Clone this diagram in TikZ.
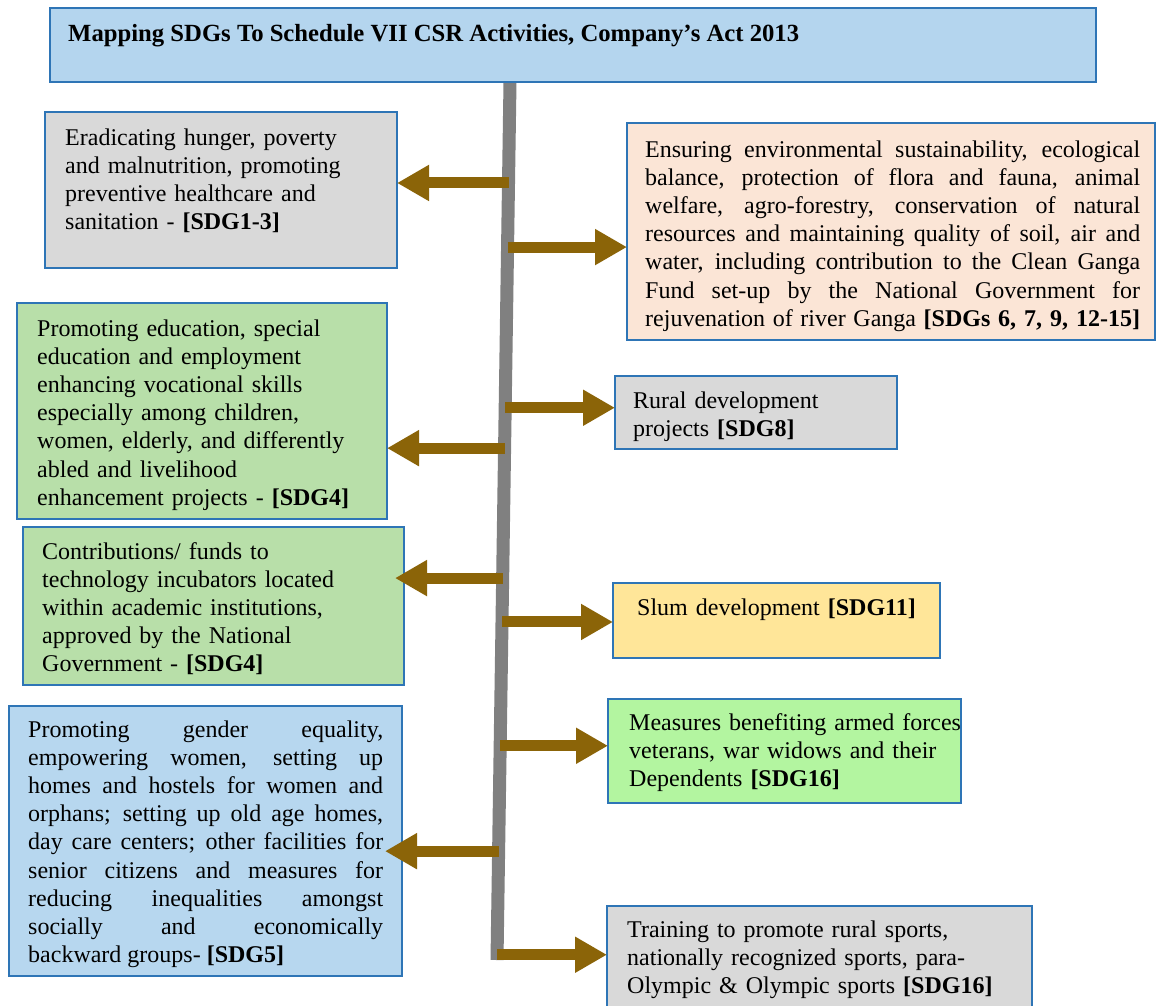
\documentclass[tikz,border=0pt]{standalone}
\usepackage{fontspec}
\setmainfont{Liberation Serif}
\usetikzlibrary{arrows.meta,calc}
\definecolor{bordc}{HTML}{2E75B6}
\definecolor{titlec}{HTML}{B4D5EE}
\definecolor{grayc}{HTML}{D9D9D9}
\definecolor{peachc}{HTML}{FBE5D6}
\definecolor{greenc}{HTML}{B8DFA9}
\definecolor{yellowc}{HTML}{FFE699}
\definecolor{limec}{HTML}{B3F5A0}
\definecolor{bluec}{HTML}{B7D7EF}
\definecolor{arrowc}{HTML}{8B6408}
\definecolor{barc}{HTML}{808080}
\begin{document}
\begin{tikzpicture}[x=1pt,y=-1pt,
  box/.style={draw=bordc,line width=2.2pt,anchor=north west,inner sep=0pt,outer sep=0pt},
  txt/.style={anchor=base west,inner sep=0pt,align=left,text width=#1,
     font=\fontsize{24}{28.2}\selectfont},
  txtj/.style={anchor=base west,inner sep=0pt,align=justify,text width=#1,
     font=\fontsize{24}{28.2}\selectfont},
  arr/.style={draw=arrowc,line width=11pt,-{Triangle[length=32pt,width=34pt]}},
  bar/.style={draw=barc,line width=13pt}]
\clip (0,0) rectangle (1156,1005);
\fill[white] (0,0) rectangle (1156,1005);
% central bar
\coordinate (bartop) at (510,82);
\coordinate (barbot) at (497,960);
\draw[bar] (bartop) -- (barbot);
\path (bartop) -- (barbot)
  coordinate[pos=0.115] (s1)
  coordinate[pos=0.188] (s2)
  coordinate[pos=0.417] (s3)
  coordinate[pos=0.371] (s4)
  coordinate[pos=0.565] (s5)
  coordinate[pos=0.615] (s6)
  coordinate[pos=0.756] (s7)
  coordinate[pos=0.876] (s8)
  coordinate[pos=0.994] (s9);
% title
\node[box,fill=titlec,minimum width=1046pt,minimum height=74pt] (t) at (50,8) {};
\node[anchor=base west,inner sep=0pt,font=\fontsize{24.7}{28}\selectfont\bfseries] (tt) at (68,41)
  {Mapping SDGs To Schedule VII CSR Activities, Company’s Act 2013};
% boxes
\node[box,fill=grayc,minimum width=352pt,minimum height=156pt] (b1) at (45,112) {};
\node[box,fill=peachc,minimum width=528pt,minimum height=217pt] (b2) at (627,123) {};
\node[box,fill=greenc,minimum width=370pt,minimum height=216pt] (b3) at (17,303) {};
\node[box,fill=grayc,minimum width=282pt,minimum height=73pt] (b4) at (615,376) {};
\node[box,fill=greenc,minimum width=381pt,minimum height=158pt] (b5) at (23,527) {};
\node[box,fill=yellowc,minimum width=327pt,minimum height=75pt] (b6) at (613,583) {};
\node[box,fill=limec,minimum width=353pt,minimum height=104pt] (b7) at (608,699) {};
\node[box,fill=bluec,minimum width=393pt,minimum height=270pt] (b8) at (9,706) {};
\node[box,fill=grayc,minimum width=425pt,minimum height=110pt] (b9) at (607,906) {};
% texts
\node[txt=330pt] (x1) at (65,145) {Eradicating hunger, poverty\\
and malnutrition, promoting\\
preventive healthcare and\\
sanitation - \textbf{[SDG1-3]}};
\node[txtj=500pt] (x2) at (645,157) {%
\makebox[495pt][s]{Ensuring environmental sustainability, ecological}\\
\makebox[495pt][s]{balance, protection of flora and fauna, animal}\\
\makebox[495pt][s]{welfare, agro-forestry, conservation of natural}\\
\makebox[495pt][s]{resources and maintaining quality of soil, air and}\\
\makebox[495pt][s]{water, including contribution to the Clean Ganga}\\
\makebox[495pt][s]{Fund set-up by the National Government for}\\
\makebox[495pt][s]{rejuvenation of river Ganga \textbf{[SDGs 6, 7, 9, 12-15]}}};
\node[txt=345pt] (x3) at (37,336) {Promoting education, special\\
education and employment\\
enhancing vocational skills\\
especially among children,\\
women, elderly, and differently\\
abled and livelihood\\
enhancement projects - \textbf{[SDG4]}};
\node[txt=260pt] (x4) at (633,408) {Rural development\\
projects \textbf{[SDG8]}};
\node[txt=355pt] (x5) at (42,559) {Contributions/ funds to\\
technology incubators located\\
within academic institutions,\\
approved by the National\\
Government - \textbf{[SDG4]}};
\node[txt=300pt] (x6) at (637,615) {Slum development \textbf{[SDG11]}};
\node[txt=350pt] (x7) at (629,730) {Measures benefiting armed forces\\
veterans, war widows and their\\
Dependents \textbf{[SDG16]}};
\node[txtj=360pt] (x8) at (28,737) {%
\makebox[355pt][s]{Promoting gender equality,}\\
\makebox[355pt][s]{empowering women, setting up}\\
\makebox[355pt][s]{homes and hostels for women and}\\
\makebox[355pt][s]{orphans; setting up old age homes,}\\
\makebox[355pt][s]{day care centers; other facilities for}\\
\makebox[355pt][s]{senior citizens and measures for}\\
\makebox[355pt][s]{reducing inequalities amongst}\\
\makebox[355pt][s]{socially and economically}\\
backward groups- \textbf{[SDG5]}};
\node[txt=400pt] (x9) at (627,937) {Training to promote rural sports,\\
nationally recognized sports, para-\\
Olympic \& Olympic sports \textbf{[SDG16]}};
% arrows
\draw[arr] (s1) -- (s1 -| b1.east);
\draw[arr] (s2) -- (s2 -| b2.west);
\draw[arr] (s3) -- (s3 -| b3.east);
\draw[arr] (s4) -- (s4 -| b4.west);
\draw[arr] (s5) -- ($(s5 -| b5.east)+(-9,0)$);
\draw[arr] (s6) -- (s6 -| b6.west);
\draw[arr] (s7) -- (s7 -| b7.west);
\draw[arr] (s8) -- ($(s8 -| b8.east)+(-17,0)$);
\draw[arr] (s9) -- (s9 -| b9.west);
\end{tikzpicture}
\end{document}
